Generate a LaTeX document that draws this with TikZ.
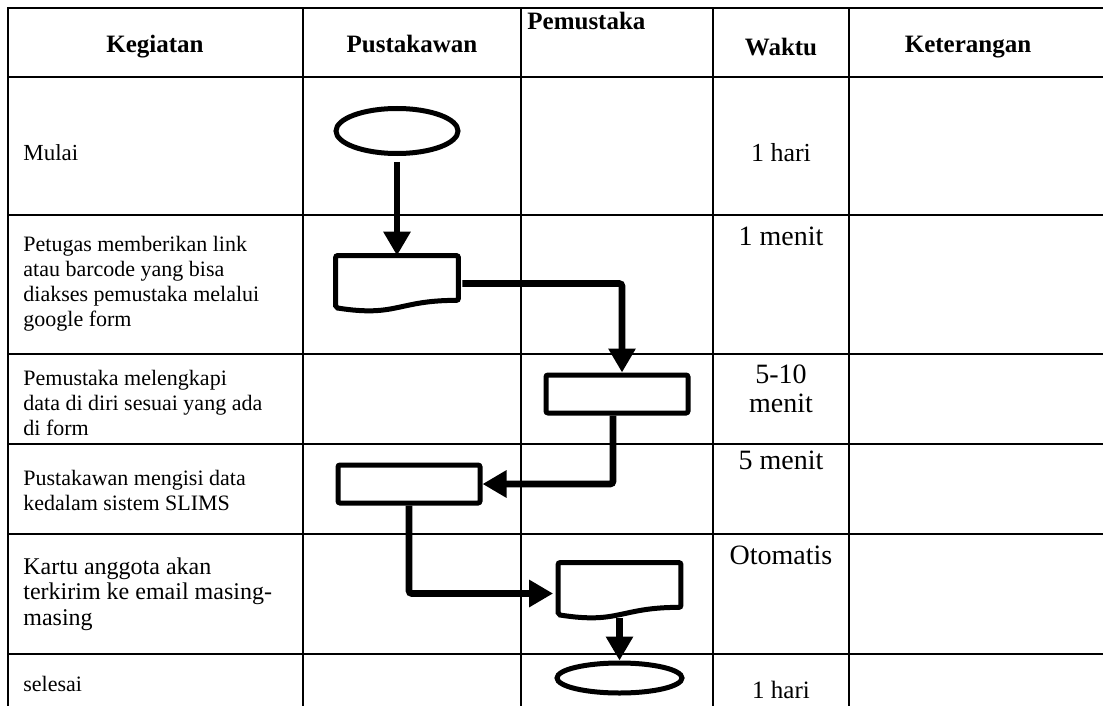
\documentclass[tikz,border=0pt]{standalone}
\usepackage{fontspec}
\setmainfont{Liberation Serif}
\usetikzlibrary{shapes.geometric,arrows.meta,calc}

\begin{document}
\begin{tikzpicture}[x=0.5pt,y=-0.5pt,
        garis/.style={line width=1.1pt,line cap=rect},
        head/.style={anchor=base,inner sep=0pt,font=\fontsize{12.5}{14}\selectfont\bfseries},
        lbl/.style={anchor=west,align=left,inner sep=0pt,font=\fontsize{11}{12.5}\selectfont},
        wkt/.style={inner sep=0pt,align=center,font=\fontsize{14}{14.5}\selectfont},
        terminal/.style={draw,ellipse,line width=2.5pt,inner sep=0pt},
        proses/.style={draw,rectangle,line width=2.5pt,rounded corners=1pt,minimum width=71pt,minimum height=19pt,inner sep=0pt},
        dok/.style={rectangle,minimum width=61pt,minimum height=27.5pt,inner sep=0pt},
        alur/.style={line width=3.4pt,rounded corners=1.5pt,-{Triangle[length=12pt 0,width=13pt 0]}}]
        \useasboundingbox (0,0) rectangle (1103,706);
        % tabel
        \foreach \y in {8,77,215,354,444,534,654}
            \draw[garis] (8,\y) -- (1103,\y);
        \foreach \x in {8,303,521,713,849}
            \draw[garis] (\x,8) -- (\x,706);
        % judul kolom
        \node[head] (hkeg) at (155,53) {Kegiatan};
        \node[head] (hpus) at (412,53) {Pustakawan};
        \node[head,anchor=base west] (hpem) at (527,30) {Pemustaka};
        \node[head] (hwkt) at (781,56) {Waktu};
        \node[head] (hket) at (968,53) {Keterangan};
        % kegiatan
        \node[lbl,font=\fontsize{11.5}{12.5}\selectfont] (k1) at (23,153) {Mulai};
        \node[lbl] (k2) at (23,284) {Petugas memberikan link\\atau barcode yang bisa\\diakses pemustaka melalui\\google form};
        \node[lbl] (k3) at (23,403) {Pemustaka melengkapi\\data di diri sesuai yang ada\\di form};
        \node[lbl] (k4) at (23,490) {Pustakawan mengisi data\\kedalam sistem SLIMS};
        \node[lbl,font=\fontsize{12}{12.8}\selectfont] (k5) at (23,594) {Kartu anggota akan\\terkirim ke email masing-\\masing};
        \node[lbl] (k6) at (23,684) {selesai};
        % waktu
        \node[wkt,font=\fontsize{13}{14}\selectfont] (w1) at (781,153) {1 hari};
        \node[wkt] (w2) at (781,236) {1 menit};
        \node[wkt] (w3) at (781,389) {5-10\\menit};
        \node[wkt] (w4) at (781,460) {5 menit};
        \node[wkt] (w5) at (781,555) {Otomatis};
        \node[wkt,font=\fontsize{12.5}{14}\selectfont] (w6) at (781,690) {1 hari};
        % simbol alir
        \node[terminal,minimum width=61pt,minimum height=22.5pt] (mulai) at (397,131) {};
        \node[dok] (berilink) at (397,283.5) {};
        \node[proses] (lengkapi) at (617,394) {};
        \node[proses] (isidata) at (409,484) {};
        \node[dok] (kartu) at (619.5,590.5) {};
        \node[terminal,minimum width=62.5pt,minimum height=15pt] (selesai) at (619.5,678) {};
        \foreach \d in {berilink,kartu}
            \draw[line width=2.5pt,rounded corners=1pt] (\d.north west) -- (\d.north east)
                -- ($(\d.north east)!0.802!(\d.south east)$)
                .. controls ($(\d.north)!0.802!(\d.south)$) and ($(\d.north)!1.107!(\d.south)$) .. ($(\d.north west)!0.934!(\d.south west)$)
                -- cycle;
        % panah
        \draw[alur,shorten <=3pt] (mulai.south) -- (berilink.north);
        \draw[alur,shorten <=2pt] (berilink.east) -| ([xshift=2.5pt]lengkapi.north);
        \draw[alur] ([xshift=-2pt]lengkapi.south) |- (isidata.east);
        \draw[alur] (isidata.south) |- ([xshift=-2.5pt,yshift=-1.5pt]kartu.west);
        \draw[alur] (kartu.south) -- (selesai.north);
    \end{tikzpicture}
\end{document}
